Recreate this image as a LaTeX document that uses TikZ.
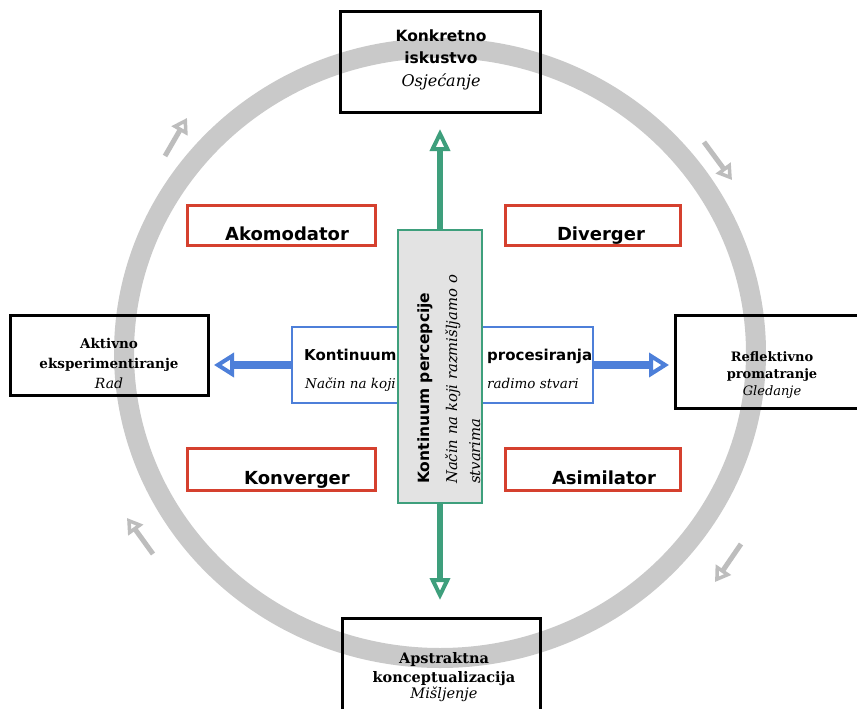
\documentclass[tikz,border=0pt]{standalone}
\usepackage{fontspec}
\setmainfont{DejaVu Serif}
\setsansfont{DejaVu Sans}
\usetikzlibrary{arrows.meta}
\definecolor{ringgray}{HTML}{C9C9C9}
\definecolor{arrgray}{HTML}{BDBDBD}
\definecolor{redc}{HTML}{D5402E}
\definecolor{bluec}{HTML}{4D7FD9}
\definecolor{greenc}{HTML}{3E9F7C}
\definecolor{boxgray}{HTML}{E3E3E3}
\tikzset{
  blackbox/.style={draw=black, line width=3pt, inner sep=0pt, outer sep=0pt},
  redbox/.style={draw=redc, line width=3pt, inner sep=0pt, outer sep=0pt},
  bluebox/.style={draw=bluec, line width=2.5pt, inner sep=0pt, outer sep=0pt},
  percbox/.style={draw=greenc, fill=boxgray, line width=2.5pt, inner sep=0pt, outer sep=0pt},
  txt/.style={inner sep=0pt, anchor=base},
  sansb/.style={txt, font=\fontsize{#1}{#1}\selectfont\sffamily\bfseries},
  serb/.style={txt, font=\fontsize{#1}{#1}\selectfont\rmfamily\bfseries},
  seri/.style={txt, font=\fontsize{#1}{#1}\selectfont\rmfamily\itshape},
  garrow/.style={draw=greenc, line width=6pt, -{Triangle[open, length=22pt, width=20pt, line width=4pt]}},
  barrow/.style={draw=bluec, line width=8pt, -{Triangle[open, length=20pt, width=24pt, line width=4pt]}},
  smallarr/.style={draw=arrgray, line width=5pt, -{Triangle[open, length=15pt, width=18pt, line width=3.5pt]}},
}
\begin{document}
\begin{tikzpicture}[x=1pt,y=-1pt]
\useasboundingbox (0,0) rectangle (857,709);
\clip (0,0) rectangle (857,709);
\fill[white] (0,0) rectangle (857,709);

% ring
\draw[ringgray, line width=20pt] (440,353) ellipse [x radius=316pt, y radius=305pt];

% small cycle arrows
\coordinate (tla) at (165,156); \coordinate (tlb) at (187,118);
\coordinate (tra) at (704,142); \coordinate (trb) at (732,180);
\coordinate (bra) at (741,544); \coordinate (brb) at (715,582);
\coordinate (bla) at (153,554); \coordinate (blb) at (127,518);
\draw[smallarr] (tla) -- (tlb);
\draw[smallarr] (tra) -- (trb);
\draw[smallarr] (bra) -- (brb);
\draw[smallarr] (bla) -- (blb);

% black boxes
\node[blackbox, minimum width=200pt, minimum height=100pt] (ce) at (440,62) {};
\node[sansb=15.5] (ce1) at (441,42) {Konkretno};
\node[sansb=15.5] (ce2) at (441,64) {iskustvo};
\node[seri=16] (ce3) at (441,87) {Osjećanje};

\node[blackbox, minimum width=198pt, minimum height=80pt] (ae) at (109,355) {};
\node[serb=13.5] (ae1) at (109,348) {Aktivno};
\node[serb=13.5] (ae2) at (109,368) {eksperimentiranje};
\node[seri=14] (ae3) at (109,388) {Rad};

\node[blackbox, minimum width=195pt, minimum height=93pt] (ro) at (772.5,361.5) {};
\node[serb=13] (ro1) at (772,361) {Reflektivno};
\node[serb=13] (ro2) at (772,378) {promatranje};
\node[seri=13] (ro3) at (772,395) {Gledanje};

\node[blackbox, minimum width=198pt, minimum height=104pt] (ac) at (441,670) {};
\node[serb=14.5] (ac1) at (444,663) {Apstraktna};
\node[serb=14.5] (ac2) at (444,682) {konceptualizacija};
\node[seri=14.5] (ac3) at (444,698) {Mišljenje};

% learning style boxes
\node[redbox, minimum width=188pt, minimum height=40pt] (ak) at (281,225) {};
\node[sansb=18] (akt) at (287,240) {Akomodator};
\node[redbox, minimum width=175pt, minimum height=40pt] (di) at (592.5,225) {};
\node[sansb=18] (dit) at (601,240) {Diverger};
\node[redbox, minimum width=188pt, minimum height=42pt] (ko) at (281,469) {};
\node[sansb=18] (kot) at (297,484) {Konverger};
\node[redbox, minimum width=175pt, minimum height=42pt] (as) at (592.5,469) {};
\node[sansb=18] (ast) at (604,484) {Asimilator};

% processing continuum
\node[bluebox, minimum width=301pt, minimum height=76pt] (pr) at (442.5,365) {};
\node[sansb=15, anchor=base west] (pr1) at (304,360) {Kontinuum};
\node[seri=13.5, anchor=base west] (pr2) at (305,388) {Način na koji};
\node[sansb=15, anchor=base west] (pr3) at (487,360) {procesiranja};
\node[seri=13.5, anchor=base west] (pr4) at (487,388) {radimo stvari};
\coordinate (bl) at (214,365);
\coordinate (br) at (669,365);
\draw[barrow] (pr.west) -- (bl);
\draw[barrow] (pr.east) -- (br);

% perception continuum
\node[percbox, minimum width=84pt, minimum height=273pt] (pc) at (440,366.5) {};
\node[sansb=15.5, anchor=base west, rotate=90] (pc1) at (429,484) {Kontinuum percepcije};
\node[seri=14.8, anchor=base west, rotate=90] (pc2) at (457,484) {Način na koji razmišljamo o};
\node[seri=14.8, anchor=base west, rotate=90] (pc3) at (480,484) {stvarima};
\coordinate (gt) at (440,129);
\coordinate (gb) at (440,600);
\draw[garrow] (pc.north) -- (gt);
\draw[garrow] (pc.south) -- (gb);
\end{tikzpicture}
\end{document}
